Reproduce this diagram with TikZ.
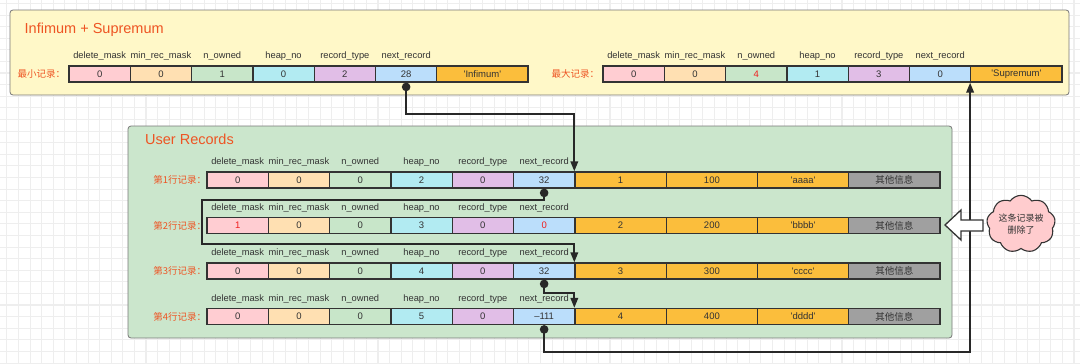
\documentclass[tikz,border=0pt]{standalone}
\usepackage{fontspec}
\setmainfont{Liberation Sans}[Ligatures=TeXOff]
\newfontfamily\cjk{Noto Sans CJK SC}
\usetikzlibrary{arrows.meta,shapes.symbols}

\definecolor{inkc}{RGB}{51,51,51}
\definecolor{linkc}{RGB}{40,40,40}
\definecolor{titlec}{RGB}{238,84,35}
\definecolor{hotc}{RGB}{240,30,30}
\definecolor{panelc}{RGB}{120,120,120}
\definecolor{infbg}{RGB}{255,248,200}
\definecolor{userbg}{RGB}{203,230,204}
\definecolor{fld1}{RGB}{255,205,210}
\definecolor{fld2}{RGB}{255,224,178}
\definecolor{fld3}{RGB}{200,230,201}
\definecolor{fld4}{RGB}{178,235,242}
\definecolor{fld5}{RGB}{225,190,231}
\definecolor{fld6}{RGB}{187,222,251}
\definecolor{datafill}{RGB}{251,190,60}
\definecolor{infofill}{RGB}{160,160,160}
\definecolor{notefill}{RGB}{255,204,206}
\definecolor{gridc}{RGB}{238,238,238}

\newcommand\redval[1]{\textcolor{hotc}{#1}}

\tikzset{
	cell/.style={draw=inkc, line width=1.3pt, minimum width=61.3pt, minimum height=16pt, inner sep=0pt, text=inkc, font=\fontsize{9.5}{10}\selectfont},
	datacell/.style={cell, minimum width=91.25pt, fill=datafill},
	infocell/.style={datacell, fill=infofill, font=\cjk\fontsize{9.5}{10}\selectfont},
	field/.style={anchor=mid, yshift=9pt, inner sep=0pt, text=inkc, font=\fontsize{9.3}{10}\selectfont},
	rowname/.style={anchor=east, inner sep=0pt, text=titlec, font=\cjk\fontsize{9.5}{10}\selectfont},
	title/.style={anchor=west, inner sep=0pt, text=titlec, font=\fontsize{14.5}{16}\selectfont},
	panel/.style={draw=panelc, line width=0.8pt, rounded corners=3pt},
	link/.style={draw=linkc, line width=2pt, {Circle[length=8.5pt]}-{Triangle[length=10pt,width=7.5pt]}},
}

% six header fields of a record, with their names above
\newcommand\recordhead[4]{%
	\foreach \v [count=\i] in {#4}
		\node[cell, fill=fld\i] (#1-\i) at ({#2+61.3*(\i-0.5)},#3) {\v};
	\foreach \f [count=\i] in {delete\_mask,min\_rec\_mask,n\_owned,heap\_no,record\_type,next\_record}
		\node[field] (#1-l\i) at (#1-\i.north) {\f};
}
% one user record: header plus three columns and the rest
\newcommand\userrow[6]{%
	\recordhead{#1}{207}{#2}{#3}
	\node[datacell] (#1-7) at (620.6,#2) {#4};
	\node[datacell] (#1-8) at (711.9,#2) {#5};
	\node[datacell] (#1-9) at (803.1,#2) {#6};
	\node[infocell] (#1-10) at (894.4,#2) {其他信息};
}

\begin{document}
\begin{tikzpicture}[x=1pt,y=-1pt]
	\useasboundingbox (0,0) rectangle (1080,364);
	\fill[white] (0,0) rectangle (1080,364);

	%background grid
	\foreach \k in {0,...,92}
		\draw[gridc, line width=0.6pt] ({6.7+11.6*\k},0) -- ++(0,364);
	\foreach \k in {0,...,31}
		\draw[gridc, line width=0.6pt] (0,{3.3+11.6*\k}) -- ++(1080,0);
	\foreach \k in {0,...,23}
		\draw[gridc, line width=1.2pt] ({6.7+46.4*\k},0) -- ++(0,364);
	\foreach \k in {0,...,7}
		\draw[gridc, line width=1.2pt] (0,{26.5+46.4*\k}) -- ++(1080,0);

	%Infimum and Supremum
	\draw[panel, fill=infbg] (10,10) rectangle (1069,95);
	\node[title] (inftitle) at (24.5,30) {Infimum + Supremum};

	\recordhead{inf}{69}{74}{0,0,1,0,2,28}
	\node[datacell] (inf-7) at (482.4,74) {'Infimum'};
	\node[rowname] (inf-name) at ([xshift=-3pt]inf-1.west) {最小记录：};

	\recordhead{sup}{603}{74}{0,0,{\redval{4}},1,3,0}
	\node[datacell] (sup-7) at (1016.4,74) {'Supremum'};
	\node[rowname] (sup-name) at ([xshift=-3pt]sup-1.west) {最大记录：};

	%User Records
	\draw[panel, fill=userbg] (128,126) rectangle (952,338);
	\node[title] (usertitle) at (145,139) {User Records};

	\userrow{r1}{180}{0,0,0,2,0,32}{1}{100}{'aaaa'}
	\userrow{r2}{225.5}{{\redval{1}},0,0,3,0,{\redval{0}}}{2}{200}{'bbbb'}
	\userrow{r3}{271}{0,0,0,4,0,32}{3}{300}{'cccc'}
	\userrow{r4}{316.5}{0,0,0,5,0,–111}{4}{400}{'dddd'}

	\node[rowname] (r1-name) at (r1-1.west) {第1行记录：};
	\node[rowname] (r2-name) at (r2-1.west) {第2行记录：};
	\node[rowname] (r3-name) at (r3-1.west) {第3行记录：};
	\node[rowname] (r4-name) at (r4-1.west) {第4行记录：};

	%next_record links
	\coordinate (skip) at (202,244);
	\draw[link] (inf-6.south) -- ++(0,31) -| (r1-7.north west);
	\draw[link] (r1-6.south) -- ++(0,11) -| (skip) -| (r3-7.north west);
	\draw[link] (r3-6.south) -- ++(0,13) -| (r4-7.north west);
	\draw[link] (r4-6.south) -- ++(0,27) -| (sup-7.south west);

	%deleted row marker
	\draw[draw=inkc, fill=white, line width=1.3pt, line join=miter]
		(945,225) -- (961,210) -- (961,220) -- (983,220) -- (983,231) -- (961,231) -- (961,240) -- cycle;
	\node[cloud, cloud puffs=9, cloud puff arc=110, aspect=1.3, draw=inkc, fill=notefill, line width=1.1pt,
		minimum width=62pt, minimum height=48pt, inner sep=0pt, align=center, text=inkc,
		font=\cjk\fontsize{9}{12}\selectfont] (note) at (1021,224) {这条记录被\\删除了};

\end{tikzpicture}
\end{document}
